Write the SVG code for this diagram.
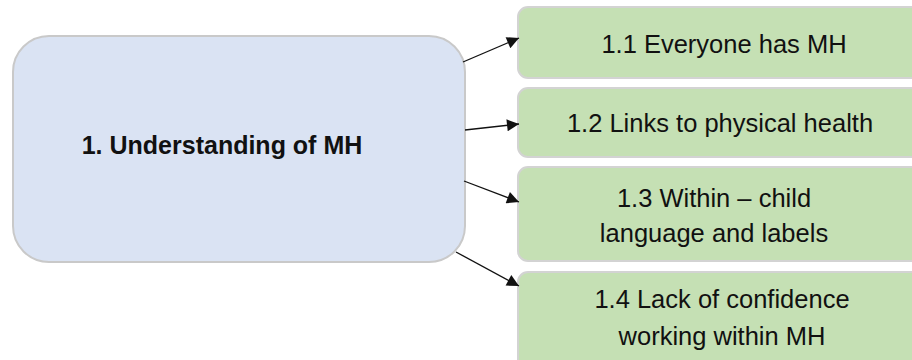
<svg xmlns="http://www.w3.org/2000/svg" width="912" height="360" viewBox="0 0 912 360">
<defs>
<style>
.main{fill:#dae3f3;stroke:#c9c9c9;stroke-width:2}
.sub{fill:#c5e0b4;stroke:#d3d3d3;stroke-width:2}
.t{font-family:"Liberation Sans",Arial,sans-serif;font-size:25.5px;fill:#111;text-anchor:middle}
.b{font-weight:bold;font-size:25px}
.c{stroke:#111;stroke-width:1.3;fill:none;marker-end:url(#ah)}
</style>
<marker id="ah" viewBox="0 0 10 10" refX="10" refY="5" markerWidth="16" markerHeight="12" markerUnits="userSpaceOnUse" orient="auto">
<path d="M0,0 L10,5 L0,10 z" fill="#111"/>
</marker>
</defs>
<rect width="912" height="360" fill="#fff"/>
<g id="n1">
<rect class="main" x="13" y="36" width="452" height="226" rx="36"/>
<text class="t b" x="222" y="154">1. Understanding of MH</text>
</g>
<g id="n11">
<rect class="sub" x="518" y="7" width="420" height="71" rx="10"/>
<text class="t" x="724" y="53">1.1 Everyone has MH</text>
</g>
<g id="n12">
<rect class="sub" x="518" y="88" width="420" height="69" rx="10"/>
<text class="t" x="720" y="132">1.2 Links to physical health</text>
</g>
<g id="n13">
<rect class="sub" x="518" y="167" width="420" height="94" rx="10"/>
<text class="t" x="714" y="207">1.3 Within – child</text>
<text class="t" x="714" y="242">language and labels</text>
</g>
<g id="n14">
<rect class="sub" x="518" y="272" width="420" height="100" rx="10"/>
<text class="t" x="722" y="308">1.4 Lack of confidence</text>
<text class="t" x="722" y="345">working within MH</text>
</g>
<g id="connectors">
<line class="c" x1="463" y1="62" x2="519" y2="38"/>
<line class="c" x1="465" y1="130" x2="519" y2="124"/>
<line class="c" x1="464" y1="181" x2="519" y2="202"/>
<line class="c" x1="456" y1="252" x2="519" y2="286"/>
</g>
</svg>
